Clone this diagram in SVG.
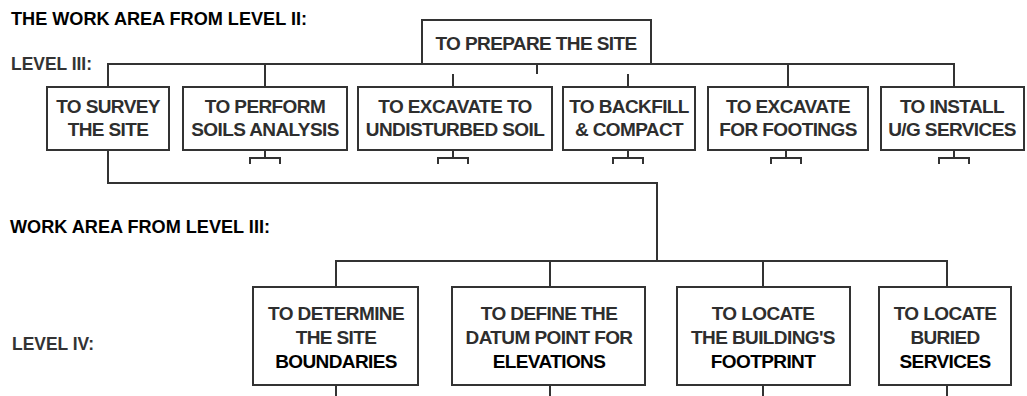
<svg xmlns="http://www.w3.org/2000/svg" width="1027" height="396" viewBox="0 0 1027 396">
<style>
.bg{fill:#ffffff}
.box{fill:none;stroke:#333;stroke-width:2}
.wbox{fill:#ffffff;stroke:#333;stroke-width:2}
.ln{fill:none;stroke:#333;stroke-width:2}
.t{font-family:"Liberation Sans",Arial,sans-serif;font-weight:bold;font-size:19px;letter-spacing:-0.6px;fill:#2e2e2e;text-anchor:middle}
.k{fill:#000}
.h{font-family:"Liberation Sans",Arial,sans-serif;font-weight:bold;font-size:19px;fill:#000}
.lv{font-family:"Liberation Sans",Arial,sans-serif;font-weight:bold;font-size:19px;fill:#333}
</style>
<rect class="bg" x="0" y="0" width="1027" height="396"/>
<text class="h" x="11" y="25" textLength="296" lengthAdjust="spacingAndGlyphs">THE WORK AREA FROM LEVEL II:</text>
<text class="lv" x="11" y="70" textLength="81" lengthAdjust="spacingAndGlyphs">LEVEL III:</text>
<text class="h" x="10" y="233" textLength="260" lengthAdjust="spacingAndGlyphs">WORK AREA FROM LEVEL III:</text>
<text class="lv" x="12" y="350" textLength="82" lengthAdjust="spacingAndGlyphs">LEVEL IV:</text>
<g id="connectors">
<path class="ln" d="M108,87 V64 H954 V87"/>
<path class="ln" d="M265,64 V87"/>
<path class="ln" d="M788,64 V87"/>
<path class="ln" d="M537,64 V74"/>
<path class="ln" d="M453,74 V87"/>
<path class="ln" d="M628,74 V87"/>
<path class="ln" d="M108,150 V183 H657 V261"/>
<path class="ln" d="M336,287 V261 H947 V287"/>
<path class="ln" d="M550,261 V287"/>
<path class="ln" d="M763,261 V287"/>
<path class="ln" d="M265,150 V158 M250,164 V158 H280 V164"/>
<path class="ln" d="M453,150 V158 M438,164 V158 H468 V164"/>
<path class="ln" d="M628,150 V158 M613,164 V158 H643 V164"/>
<path class="ln" d="M786,150 V158 M771,164 V158 H801 V164"/>
<path class="ln" d="M954,150 V158 M939,164 V158 H969 V164"/>
<path class="ln" d="M336,385 V396 M550,385 V396 M763,385 V396 M947,385 V396"/>
</g>
<g id="prepare">
<rect class="wbox" x="422" y="20" width="229" height="44"/>
<text class="t" x="536" y="50">TO PREPARE THE SITE</text>
</g>
<g id="survey">
<rect class="box" x="47" y="87" width="122" height="63"/>
<text class="t" x="108" y="113">TO SURVEY</text>
<text class="t" x="108" y="136">THE SITE</text>
</g>
<g id="soils">
<rect class="box" x="183" y="87" width="164" height="63"/>
<text class="t" x="265" y="113">TO PERFORM</text>
<text class="t" x="265" y="136">SOILS ANALYSIS</text>
</g>
<g id="excavate">
<rect class="box" x="358" y="87" width="194" height="63"/>
<text class="t" x="455" y="113">TO EXCAVATE TO</text>
<text class="t" x="455" y="136">UNDISTURBED SOIL</text>
</g>
<g id="backfill">
<rect class="box" x="563" y="87" width="132" height="63"/>
<text class="t" x="629" y="113">TO BACKFILL</text>
<text class="t" x="629" y="136">&amp; COMPACT</text>
</g>
<g id="footings">
<rect class="box" x="708" y="87" width="160" height="63"/>
<text class="t" x="788" y="113">TO EXCAVATE</text>
<text class="t" x="788" y="136">FOR FOOTINGS</text>
</g>
<g id="install">
<rect class="box" x="881" y="87" width="143" height="63"/>
<text class="t" x="952" y="113">TO INSTALL</text>
<text class="t" x="952" y="136">U/G SERVICES</text>
</g>
<g id="boundaries">
<rect class="box" x="253" y="287" width="165" height="98"/>
<text class="t" x="336" y="320">TO DETERMINE</text>
<text class="t" x="336" y="344">THE SITE</text>
<text class="t k" x="336" y="368">BOUNDARIES</text>
</g>
<g id="datum">
<rect class="box" x="452" y="287" width="193" height="98"/>
<text class="t" x="549" y="320">TO DEFINE THE</text>
<text class="t" x="549" y="344">DATUM POINT FOR</text>
<text class="t k" x="549" y="368">ELEVATIONS</text>
</g>
<g id="footprint">
<rect class="box" x="677" y="287" width="173" height="98"/>
<text class="t" x="763" y="320">TO LOCATE</text>
<text class="t" x="763" y="344">THE BUILDING'S</text>
<text class="t k" x="763" y="368">FOOTPRINT</text>
</g>
<g id="buried">
<rect class="box" x="879" y="287" width="132" height="98"/>
<text class="t" x="945" y="320">TO LOCATE</text>
<text class="t" x="945" y="344">BURIED</text>
<text class="t k" x="945" y="368">SERVICES</text>
</g>
</svg>
